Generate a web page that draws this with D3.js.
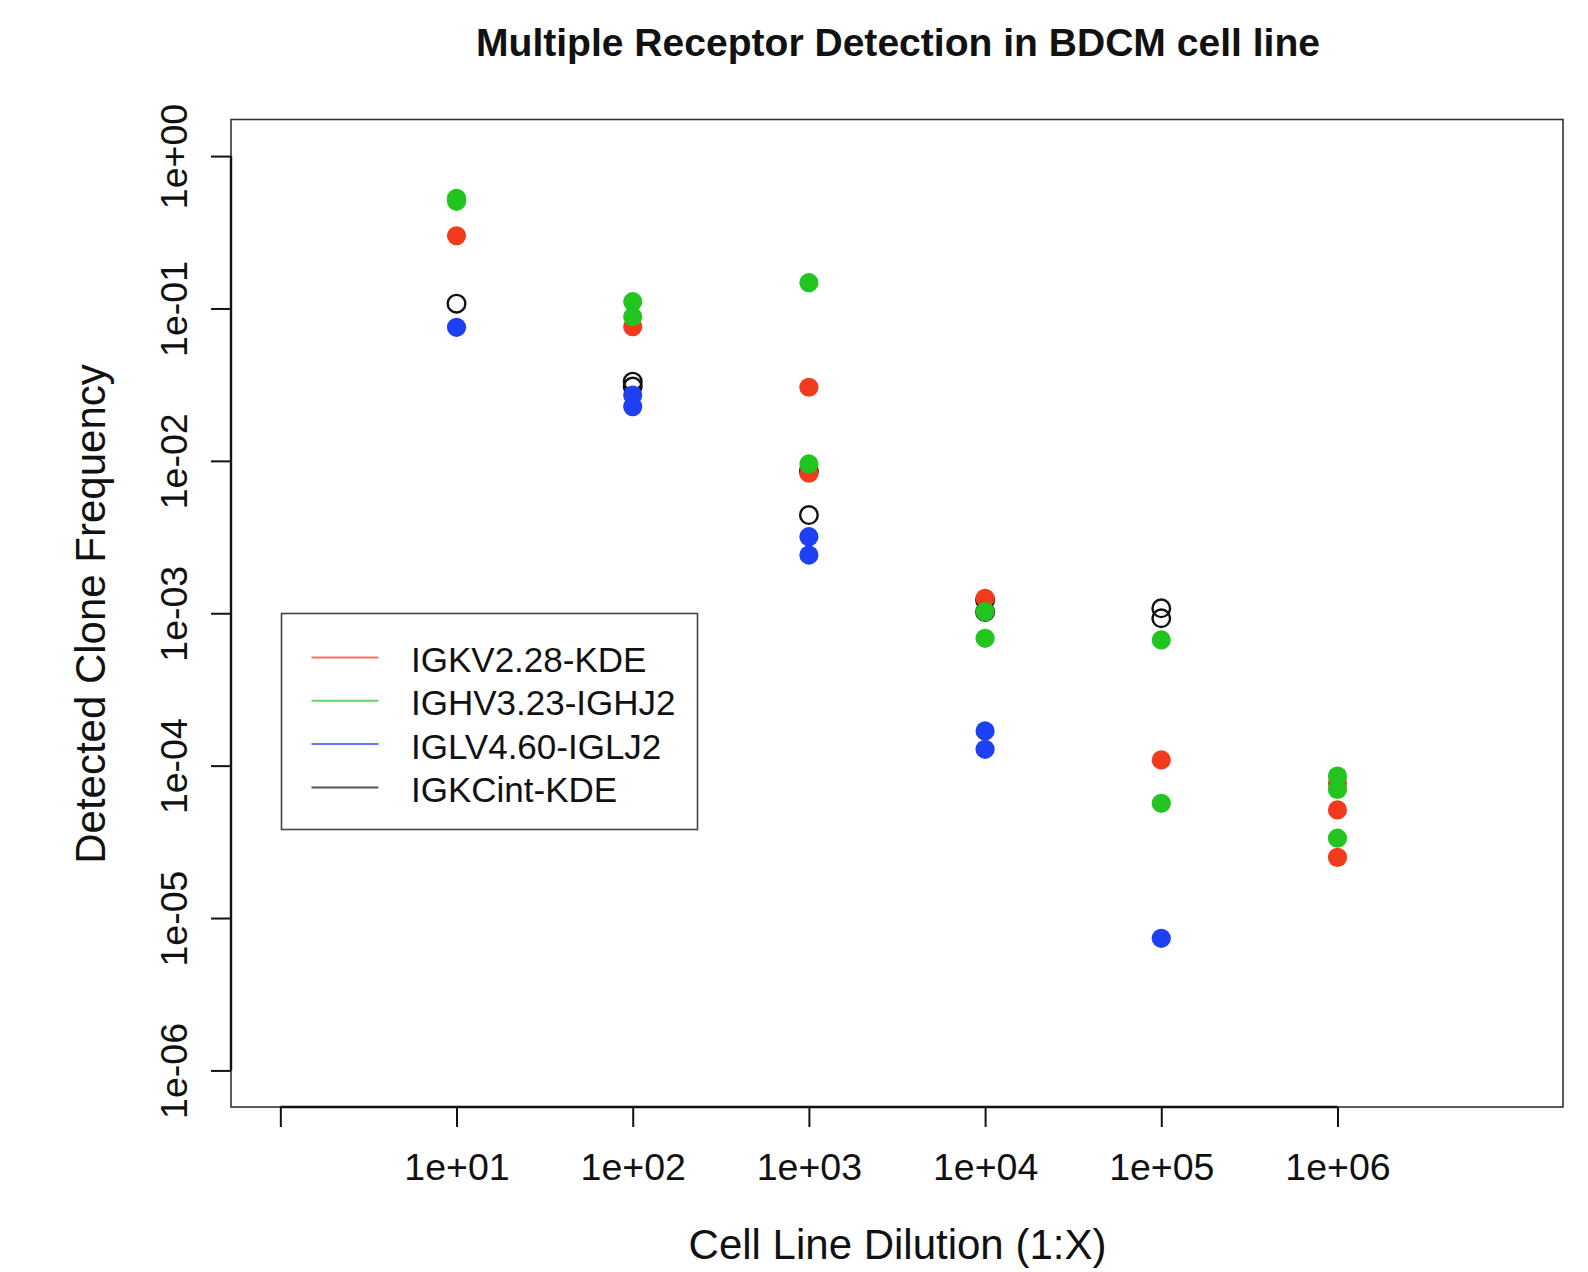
<!DOCTYPE html>
<html>
<head>
<meta charset="utf-8">
<script src="https://cdn.jsdelivr.net/npm/d3@7"></script>
<style>
  html, body { margin: 0; padding: 0; background: #fff; }
  svg { display: block; font-family: "Liberation Sans", Arial, Helvetica, sans-serif; }
</style>
</head>
<body>
<svg id="chart" width="1588" height="1272"></svg>
<script>
// ---- Data ----
const dilutions = [1e1, 1e2, 1e3, 1e4, 1e5, 1e6];
const xTickValues = [1e0, 1e1, 1e2, 1e3, 1e4, 1e5, 1e6];
const xTickLabels = ["", "1e+01", "1e+02", "1e+03", "1e+04", "1e+05", "1e+06"];
const yTickValues = [1e0, 1e-1, 1e-2, 1e-3, 1e-4, 1e-5, 1e-6];
const yTickLabels = ["1e+00", "1e-01", "1e-02", "1e-03", "1e-04", "1e-05", "1e-06"];

const seriesNames = ["IGKV2.28-KDE", "IGHV3.23-IGHJ2", "IGLV4.60-IGLJ2", "IGKCint-KDE"];
const seriesColors = ["#f23b1c", "#22c41f", "#1d40f2", "#111111"];

// values per dilution (one inner list per dilution in `dilutions`)
const igkv228 = [[0.300], [0.0759], [0.0304, 0.00829], [0.001253], [0.000109], [7.69e-5, 5.12e-5, 2.50e-5]];
const ighv323 = [[0.528, 0.505], [0.1108, 0.0883], [0.1476, 0.00954], [0.001024, 0.000685], [0.000668, 5.66e-5], [8.55e-5, 6.99e-5, 3.34e-5]];
const iglv460 = [[0.0752], [0.0270, 0.0227], [0.00318, 0.00241], [0.000169, 0.000128], [7.36e-6], []];
const igkcint = [[0.1075], [0.0331, 0.0307], [0.00858, 0.00441], [0.001222, 0.00102], [0.001078, 0.000927], []];

const seriesValues = [igkv228, ighv323, iglv460, igkcint];

// ---- Layout ----
const svg = d3.select("#chart");
const plot = { left: 231, right: 1563, top: 119.5, bottom: 1107 };

const x = d3.scaleLog().domain([Math.pow(10, -0.28), Math.pow(10, 7.28)]).range([plot.left, plot.right]);
const y = d3.scaleLog().domain([Math.pow(10, -6.24), Math.pow(10, 0.24)]).range([plot.bottom, plot.top]);

// plot box
svg.append("rect")
  .attr("x", plot.left).attr("y", plot.top)
  .attr("width", plot.right - plot.left).attr("height", plot.bottom - plot.top)
  .attr("fill", "none").attr("stroke", "#333").attr("stroke-width", 1.6);

// x axis
const xAxis = d3.axisBottom(x).tickValues(xTickValues)
  .tickFormat((d, i) => xTickLabels[i]).tickSize(20).tickPadding(26);
const gx = svg.append("g").attr("transform", `translate(0,${plot.bottom})`).call(xAxis);
gx.select(".domain").attr("d", `M${x(1e0)},0H${x(1e6)}`).attr("stroke", "#111").attr("stroke-width", 2.4);
gx.selectAll(".tick line").attr("stroke", "#111").attr("stroke-width", 2);
gx.selectAll(".tick text").attr("font-size", 37.5).attr("fill", "#111")
  .attr("font-family", "'Liberation Sans', Arial, sans-serif");

// y axis
const yAxis = d3.axisLeft(y).tickValues(yTickValues)
  .tickFormat((d, i) => yTickLabels[i]).tickSize(20).tickPadding(0);
const gy = svg.append("g").attr("transform", `translate(${plot.left},0)`).call(yAxis);
gy.select(".domain").attr("d", `M0,${y(1e-6)}V${y(1e0)}`).attr("stroke", "#111").attr("stroke-width", 2.4);
gy.selectAll(".tick line").attr("stroke", "#111").attr("stroke-width", 2);
gy.selectAll(".tick text")
  .attr("font-size", 37.5).attr("fill", "#111")
  .attr("font-family", "'Liberation Sans', Arial, sans-serif")
  .attr("text-anchor", "middle")
  .attr("dy", null)
  .attr("x", null)
  .attr("transform", `translate(${187 - plot.left},0) rotate(-90)`);

// points: draw open black first, then red, green, blue
const drawOrder = [3, 0, 1, 2];
drawOrder.forEach(si => {
  const pts = [];
  seriesValues[si].forEach((vals, di) => vals.forEach(v => pts.push({ d: dilutions[di], v })));
  const g = svg.append("g");
  g.selectAll("circle").data(pts).enter().append("circle")
    .attr("cx", p => x(p.d))
    .attr("cy", p => y(p.v))
    .attr("r", si === 3 ? 8.8 : 9.6)
    .attr("fill", si === 3 ? "none" : seriesColors[si])
    .attr("stroke", si === 3 ? seriesColors[si] : "none")
    .attr("stroke-width", si === 3 ? 2.4 : 0);
});

// legend
const lg = svg.append("g");
lg.append("rect").attr("x", 281.5).attr("y", 613.5).attr("width", 416).attr("height", 216)
  .attr("fill", "#fff").attr("stroke", "#444").attr("stroke-width", 1.6);
seriesNames.forEach((name, i) => {
  const cy = 657.5 + i * 43.3;
  lg.append("line").attr("x1", 311.5).attr("x2", 378.5).attr("y1", cy).attr("y2", cy)
    .attr("stroke", seriesColors[i]).attr("stroke-width", 2).attr("stroke-opacity", 0.7);
  lg.append("text").attr("x", 411).attr("y", cy + 14.5)
    .attr("font-size", 35).attr("fill", "#111").text(name);
});

// title and axis labels
svg.append("text").attr("x", 898).attr("y", 56).attr("text-anchor", "middle")
  .attr("font-size", 38).attr("font-weight", "bold").attr("fill", "#111")
  .attr("textLength", 844).attr("lengthAdjust", "spacingAndGlyphs")
  .text("Multiple Receptor Detection in BDCM cell line");

svg.append("text").attr("x", 897.5).attr("y", 1259).attr("text-anchor", "middle")
  .attr("font-size", 42).attr("fill", "#111")
  .text("Cell Line Dilution (1:X)");

svg.append("text").attr("transform", "translate(105,614) rotate(-90)").attr("text-anchor", "middle")
  .attr("font-size", 42).attr("fill", "#111")
  .text("Detected Clone Frequency");
</script>
</body>
</html>
